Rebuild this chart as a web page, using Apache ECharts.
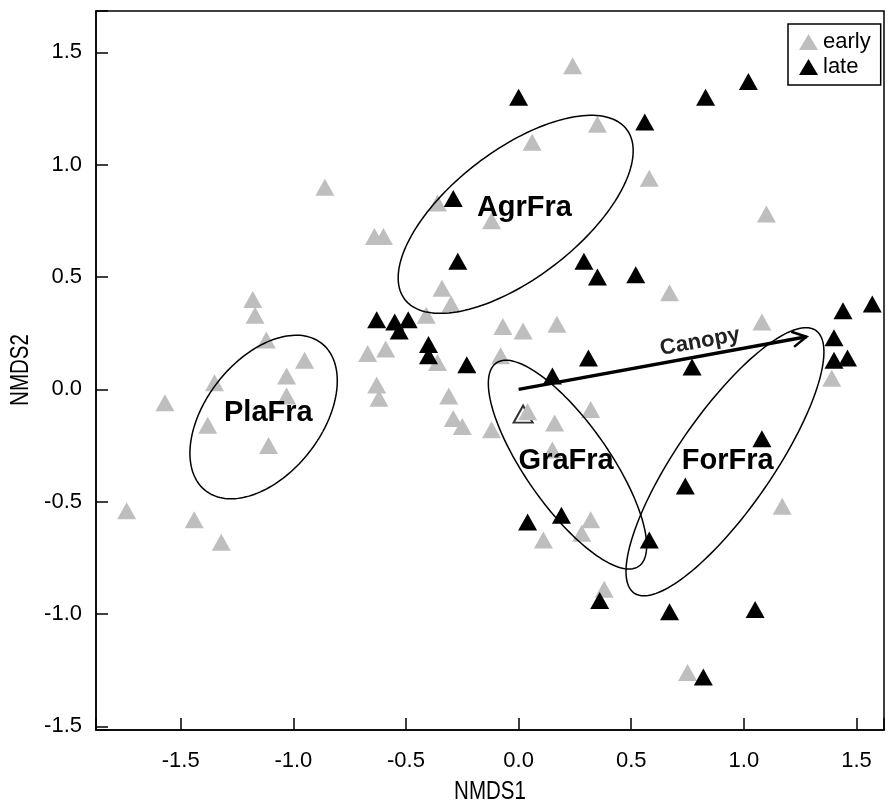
<!DOCTYPE html>
<html>
<head>
<meta charset="utf-8">
<title>NMDS</title>
<script src="https://cdn.jsdelivr.net/npm/echarts@6/dist/echarts.min.js"></script>
<style>
	html, body { margin: 0; padding: 0; background: #fff; }
	#chart { width: 891px; height: 809px; }
</style>
</head>
<body>
<div id="chart"></div>
<script>
// early samples [NMDS1, NMDS2]
var early = [
	[-1.18, 0.40], [-1.17, 0.33], [-1.12, 0.22], [-0.95, 0.13], [-1.35, 0.03], [-1.57, -0.06],
	[-1.03, 0.06], [-1.03, -0.03], [-1.38, -0.16], [-1.11, -0.25], [-1.74, -0.54], [-1.44, -0.58],
	[-1.32, -0.68], [-0.86, 0.90], [-0.36, 0.83], [-0.64, 0.68], [-0.60, 0.68], [-0.34, 0.45],
	[-0.30, 0.38], [-0.41, 0.33], [0.24, 1.44], [0.35, 1.18], [0.06, 1.10], [0.58, 0.94],
	[1.10, 0.78], [-0.12, 0.75], [0.67, 0.43], [1.08, 0.30], [-0.07, 0.28], [0.02, 0.26],
	[0.17, 0.29], [-0.67, 0.16], [-0.59, 0.18], [-0.36, 0.12], [-0.08, 0.15], [-0.63, 0.02],
	[-0.62, -0.04], [-0.31, -0.03], [0.04, -0.10], [0.32, -0.09], [-0.12, -0.18], [0.16, -0.15],
	[0.15, -0.27], [1.17, -0.52], [0.32, -0.58], [0.28, -0.64], [0.11, -0.67], [0.38, -0.89],
	[0.75, -1.26], [1.39, 0.05], [-0.29, -0.13], [-0.25, -0.165]
];
// late samples
var late = [
	[-0.29, 0.85], [-0.27, 0.57], [-0.63, 0.31], [-0.55, 0.30], [-0.49, 0.31], [-0.53, 0.26],
	[-0.40, 0.20], [-0.40, 0.15], [-0.23, 0.11], [0.31, 0.14], [0.15, 0.06], [0.00, 1.30],
	[0.83, 1.30], [1.02, 1.37], [0.56, 1.19], [0.29, 0.57], [0.35, 0.50], [0.52, 0.51],
	[1.44, 0.35], [1.57, 0.38], [0.77, 0.10], [1.40, 0.23], [1.40, 0.13], [1.46, 0.14],
	[1.08, -0.22], [0.74, -0.43], [0.04, -0.59], [0.19, -0.56], [0.58, -0.67], [0.36, -0.94],
	[0.67, -0.99], [1.05, -0.98], [0.82, -1.28]
];
// the one open triangle
var openPoint = [[0.02, -0.11]];
// ellipses: [centre x, centre y, semi major, semi minor, angle in degrees]
var ellipses = [
	[-0.013, 0.779, 0.621, 0.284, 37.6],
	[-1.132, -0.123, 0.417, 0.256, 51.8],
	[0.217, -0.335, 0.552, 0.186, -55],
	[0.916, -0.322, 0.710, 0.212, 55.4]
];
var groupLabels = [
	[0.026, 0.806, 'AgrFra'],
	[-1.111, -0.107, 'PlaFra'],
	[0.211, -0.318, 'GraFra'],
	[0.928, -0.318, 'ForFra']
];
// arrow [x0, y0, x1, y1] and its label
var canopyArrow = [[0, 0, 1.278, 0.234]];
var canopyLabel = [0.805, 0.212, 'Canopy'];
var axisTitles = ['NMDS1', 'NMDS2'];

var FONT = 'Liberation Sans, Arial, sans-serif';

function tickText(v) {
	if (Math.abs(v * 2 - Math.round(v * 2)) > 1e-6) return '';
	return v.toFixed(1);
}

var myChart = echarts.init(document.getElementById('chart'), null, { renderer: 'canvas' });

var option = {
	animation: false,
	grid: {
		left: 96,
		right: 7,
		top: 11,
		bottom: 79,
		show: true,
		borderColor: '#000',
		borderWidth: 1.5
	},
	//轴标题，字体偏窄
	graphic: [{
		type: 'text',
		x: 490,
		y: 792,
		scaleX: 0.82,
		style: {
			text: axisTitles[0],
			font: '25px ' + FONT,
			fill: '#000',
			align: 'center',
			verticalAlign: 'middle',
			textAlign: 'center',
			textVerticalAlign: 'middle'
		}
	}, {
		type: 'text',
		x: 21,
		y: 370,
		rotation: Math.PI / 2,
		scaleX: 0.82,
		style: {
			text: axisTitles[1],
			font: '25px ' + FONT,
			fill: '#000',
			align: 'center',
			verticalAlign: 'middle',
			textAlign: 'center',
			textVerticalAlign: 'middle'
		}
	}],
	legend: {
		orient: 'vertical',
		left: 788,
		top: 24,
		padding: [7, 10, 7, 11],
		itemGap: 3,
		itemWidth: 19,
		itemHeight: 16,
		borderColor: '#000',
		borderWidth: 1.5,
		data: [
			{ name: 'early', icon: 'triangle' },
			{ name: 'late', icon: 'triangle' }
		],
		textStyle: {
			fontSize: 22,
			fontFamily: FONT,
			color: '#000'
		},
		selectedMode: false
	},
	xAxis: {
		type: 'value',
		min: -1.876,
		max: 1.622,
		splitNumber: 7,
		splitLine: { show: false },
		axisLine: { onZero: false, lineStyle: { color: '#000', width: 1.5 } },
		axisTick: { inside: true, length: 12, lineStyle: { color: '#000', width: 1.5 } },
		axisLabel: {
			margin: 20,
			fontSize: 22,
			fontFamily: FONT,
			color: '#000',
			formatter: tickText
		}
	},
	yAxis: {
		type: 'value',
		min: -1.516,
		max: 1.684,
		splitNumber: 7,
		splitLine: { show: false },
		axisLine: { onZero: false, lineStyle: { color: '#000', width: 1.5 } },
		axisTick: { inside: true, length: 12, lineStyle: { color: '#000', width: 1.5 } },
		axisLabel: {
			margin: 14,
			fontSize: 22,
			fontFamily: FONT,
			color: '#000',
			formatter: tickText
		}
	},
	series: [{
		name: 'open',
		type: 'scatter',
		data: openPoint,
		symbol: 'triangle',
		symbolSize: [19, 17],
		itemStyle: { color: 'rgba(0,0,0,0)', borderColor: '#000', borderWidth: 2 },
		silent: true,
		z: 2
	}, {
		name: 'early',
		type: 'scatter',
		data: early,
		symbol: 'triangle',
		symbolSize: [19, 17],
		itemStyle: { color: '#bebebe', opacity: 1 },
		silent: true,
		z: 3
	}, {
		name: 'late',
		type: 'scatter',
		data: late,
		symbol: 'triangle',
		symbolSize: [19, 17],
		itemStyle: { color: '#000', opacity: 1 },
		silent: true,
		z: 4
	}, {
		//椭圆
		name: 'ellipses',
		type: 'custom',
		data: ellipses,
		silent: true,
		z: 5,
		renderItem: function(params, api) {
			var cx = api.value(0), cy = api.value(1);
			var a = api.value(2), b = api.value(3);
			var ang = api.value(4) * Math.PI / 180;
			var pts = [];
			for (var k = 0; k <= 160; k++) {
				var t = k / 160 * 2 * Math.PI;
				var dx = a * Math.cos(t), dy = b * Math.sin(t);
				pts.push(api.coord([
					cx + dx * Math.cos(ang) - dy * Math.sin(ang),
					cy + dx * Math.sin(ang) + dy * Math.cos(ang)
				]));
			}
			return {
				type: 'polygon',
				shape: { points: pts },
				style: { fill: 'none', stroke: '#000', lineWidth: 1.5 }
			};
		}
	}, {
		//Canopy 箭头
		name: 'arrow',
		type: 'custom',
		data: canopyArrow,
		silent: true,
		z: 6,
		renderItem: function(params, api) {
			var p0 = api.coord([api.value(0), api.value(1)]);
			var p1 = api.coord([api.value(2), api.value(3)]);
			var th = Math.atan2(p1[1] - p0[1], p1[0] - p0[0]);
			var len = 16, spread = 0.5;
			var h1 = [p1[0] - len * Math.cos(th - spread), p1[1] - len * Math.sin(th - spread)];
			var h2 = [p1[0] - len * Math.cos(th + spread), p1[1] - len * Math.sin(th + spread)];
			var lp = api.coord([canopyLabel[0], canopyLabel[1]]);
			return {
				type: 'group',
				children: [{
					type: 'polyline',
					shape: { points: [p0, p1] },
					style: { stroke: '#000', lineWidth: 3.5, fill: 'none' }
				}, {
					type: 'polyline',
					shape: { points: [h1, p1, h2] },
					style: { stroke: '#000', lineWidth: 2.5, fill: 'none' }
				}, {
					type: 'text',
					x: lp[0],
					y: lp[1],
					rotation: -th,
					style: {
						text: canopyLabel[2],
						fill: '#222',
						font: 'bold 22px ' + FONT,
						align: 'center',
						verticalAlign: 'middle',
						textAlign: 'center',
						textVerticalAlign: 'middle'
					}
				}]
			};
		}
	}, {
		//组名
		name: 'labels',
		type: 'custom',
		data: groupLabels,
		silent: true,
		z: 10,
		renderItem: function(params, api) {
			var item = groupLabels[params.dataIndex];
			var p = api.coord([item[0], item[1]]);
			return {
				type: 'text',
				x: p[0],
				y: p[1],
				z2: 100,
				style: {
					text: item[2],
					fill: '#000',
					font: 'bold 29px ' + FONT,
					align: 'center',
					verticalAlign: 'middle',
					textAlign: 'center',
					textVerticalAlign: 'middle'
				}
			};
		}
	}]
};
myChart.setOption(option);
</script>
</body>
</html>
